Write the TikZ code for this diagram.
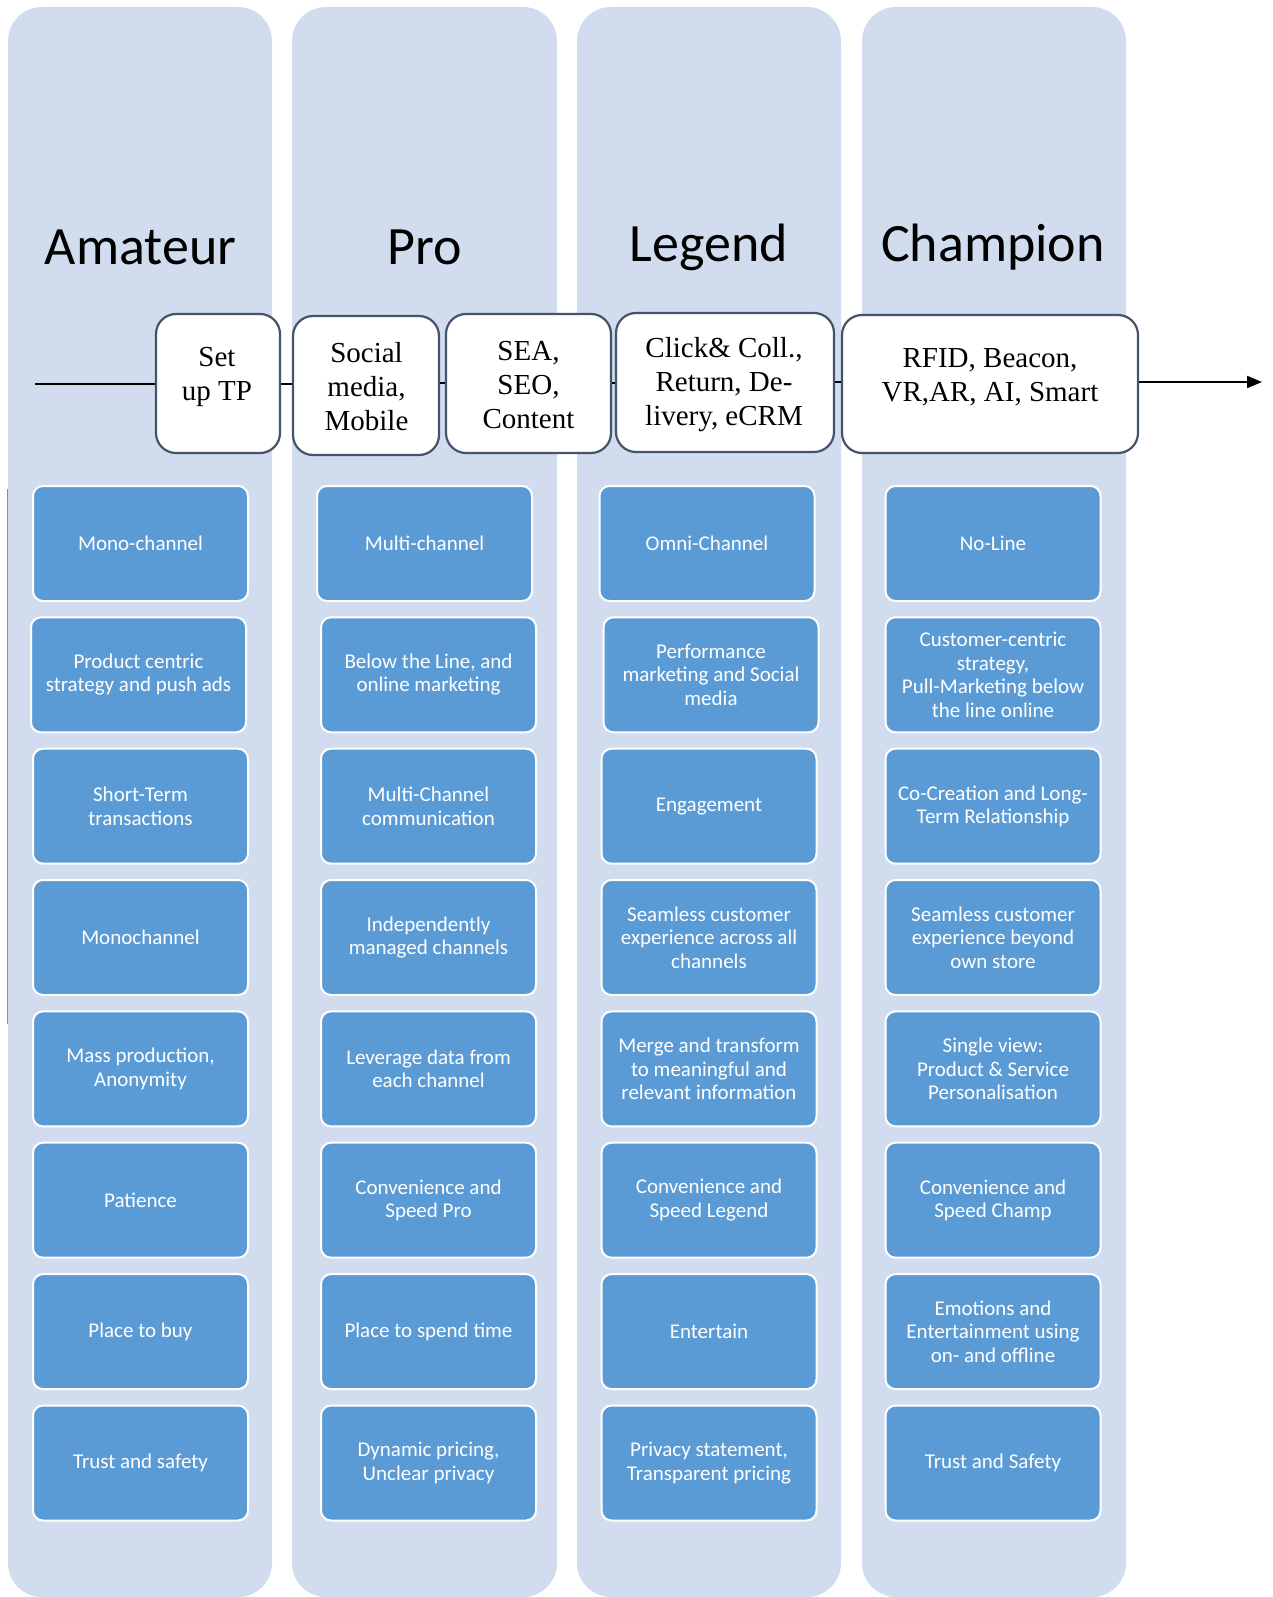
\documentclass[tikz,border=0pt]{standalone}
\usepackage{fontspec}
\setmainfont{Liberation Serif}
\newfontfamily\carlito{Carlito}
\usetikzlibrary{arrows.meta}
\definecolor{colbg}{RGB}{209,221,238}
\definecolor{boxblue}{RGB}{91,155,213}
\definecolor{msborder}{RGB}{68,84,106}
\tikzset{
  column/.style={fill=colbg, draw=none, rounded corners=34pt},
  title/.style={font=\carlito\fontsize{54}{60}\selectfont, text=black, anchor=center},
  ms/.style={draw=msborder, line width=2.2pt, fill=white, rounded corners=20pt, inner sep=0pt},
  mstext/.style={font=\fontsize{29}{34}\selectfont, align=center, inner sep=0pt},
  bbox/.style={fill=boxblue, draw=white, line width=2pt, rounded corners=10pt, minimum width=215pt, minimum height=115pt, inner sep=0pt, text=white, align=center, font=\carlito\fontsize{21}{23.4}\selectfont},
  tl/.style={draw=black, line width=2pt}
}
\begin{document}
\begin{tikzpicture}[x=1pt,y=-1pt]
\useasboundingbox (0,0) rectangle (1272,1597);
% columns
\fill[column] (8,7) rectangle (272,1597);
\fill[column] (292,7) rectangle (557,1597);
\fill[column] (577,7) rectangle (841,1597);
\fill[column] (862,7) rectangle (1126,1597);
\draw[boxblue, line width=1.5pt] (7.5,489) -- (7.5,1024);
% titles
\node[title] (tA) at (140.5,247) {Amateur};
\node[title] (tP) at (424.7,247) {Pro};
\node[title] (tL) at (708.8,247) {Legend};
\node[title] (tC) at (993,247) {Champion};
% timeline
\coordinate (start) at (35,384);
\coordinate (end) at (1262,382);
\node[ms, minimum width=124pt, minimum height=139pt] (m1) at (218,383.5) {};
\node[ms, minimum width=146pt, minimum height=139pt] (m2) at (366,385.5) {};
\node[ms, minimum width=165pt, minimum height=139pt] (m3) at (528.5,383.5) {};
\node[ms, minimum width=218pt, minimum height=139pt] (m4) at (725,382.5) {};
\node[ms, minimum width=296pt, minimum height=138pt] (m5) at (990,384) {};
\draw[tl] (start) -- (m1.west |- start);
\draw[tl] (m1.east |- 0,384) -- (m2.west |- 0,384);
\draw[tl] (m2.east |- 0,383) -- (m3.west |- 0,383);
\draw[tl] (m3.east |- 0,383) -- (m4.west |- 0,383);
\draw[tl] (m4.east |- 0,382) -- (m5.west |- 0,382);
\draw[tl, -{Triangle[length=15pt,width=12pt]}] (m5.east |- end) -- (end);
\node[mstext] (m1t) at (217,377) {Set\\up TP};
\node[mstext] (m2t) at (366.5,387) {Social\\media,\\Mobile};
\node[mstext] (m3t) at (528.5,385) {SEA,\\SEO,\\Content};
\node[mstext] (m4t) at (724,384.5) {Click\& Coll.,\\Return, De-\\livery, eCRM};
\node[mstext] (m5t) at (990,377) {RFID, Beacon,\\VR,AR, AI, Smart};
% column 1
\node[bbox] (a1) at (140.5,543.5) {Mono-channel};
\node[bbox] (a2) at (138.5,674.8) {Product centric\\strategy and push ads};
\node[bbox] (a3) at (140.5,806.2) {Short-Term\\transactions};
\node[bbox] (a4) at (140.5,937.5) {Monochannel};
\node[bbox] (a5) at (140.5,1068.9) {Mass production,\\Anonymity};
\node[bbox] (a6) at (140.5,1200.2) {Patience};
\node[bbox] (a7) at (140.5,1331.6) {Place to buy};
\node[bbox] (a8) at (140.5,1463) {Trust and safety};
% column 2
\node[bbox] (b1) at (424.5,543.5) {Multi-channel};
\node[bbox] (b2) at (428.5,674.8) {Below the Line, and\\online marketing};
\node[bbox] (b3) at (428.5,806.2) {Multi-Channel\\communication};
\node[bbox] (b4) at (428.5,937.5) {Independently\\managed channels};
\node[bbox] (b5) at (428.5,1068.9) {Leverage data from\\each channel};
\node[bbox] (b6) at (428.5,1200.2) {Convenience and\\Speed Pro};
\node[bbox] (b7) at (428.5,1331.6) {Place to spend time};
\node[bbox] (b8) at (428.5,1463) {Dynamic pricing,\\Unclear privacy};
% column 3
\node[bbox] (c1) at (707,543.5) {Omni-Channel};
\node[bbox] (c2) at (711,674.8) {Performance\\marketing and Social\\media};
\node[bbox] (c3) at (709,806.2) {Engagement};
\node[bbox] (c4) at (709,937.5) {Seamless customer\\experience across all\\channels};
\node[bbox] (c5) at (709,1068.9) {Merge and transform\\to meaningful and\\relevant information};
\node[bbox] (c6) at (709,1200.2) {Convenience and\\Speed Legend};
\node[bbox] (c7) at (709,1331.6) {Entertain};
\node[bbox] (c8) at (709,1463) {Privacy statement,\\Transparent pricing};
% column 4
\node[bbox] (d1) at (993,543.5) {No-Line};
\node[bbox] (d2) at (993,674.8) {Customer-centric\\strategy,\\Pull-Marketing below\\the line online};
\node[bbox] (d3) at (993,806.2) {Co-Creation and Long-\\Term Relationship};
\node[bbox] (d4) at (993,937.5) {Seamless customer\\experience beyond\\own store};
\node[bbox] (d5) at (993,1068.9) {Single view:\\Product \& Service\\Personalisation};
\node[bbox] (d6) at (993,1200.2) {Convenience and\\Speed Champ};
\node[bbox] (d7) at (993,1331.6) {Emotions and\\Entertainment using\\on- and offline};
\node[bbox] (d8) at (993,1463) {Trust and Safety};
\end{tikzpicture}
\end{document}
